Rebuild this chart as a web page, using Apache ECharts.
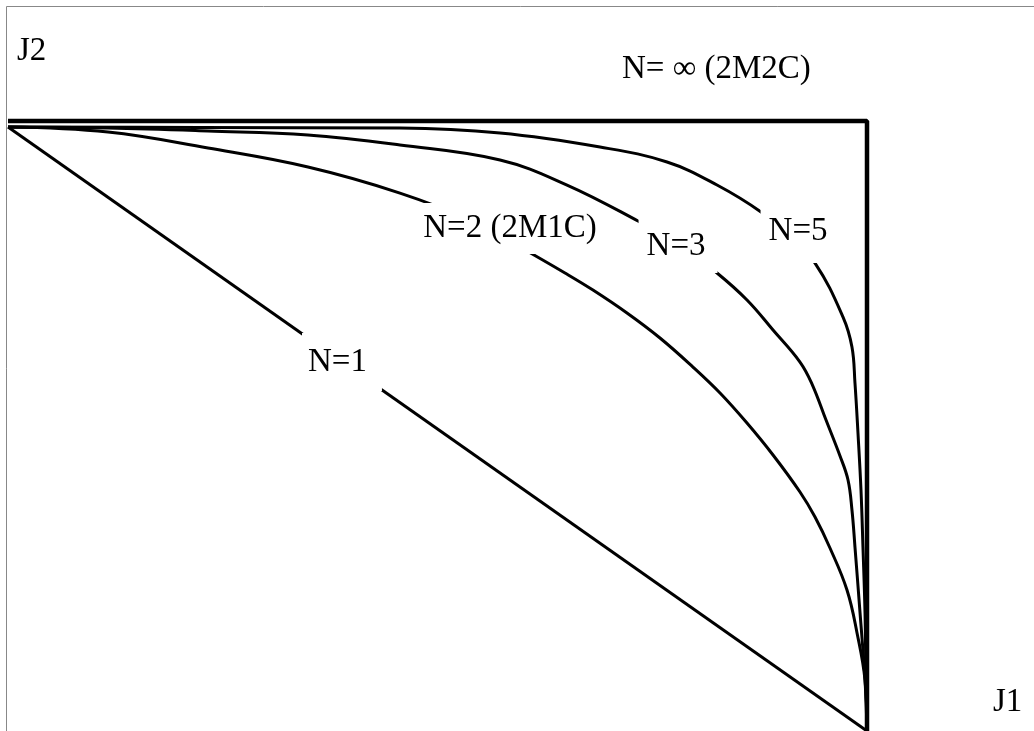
<!DOCTYPE html>
<html>
<head>
<meta charset="utf-8">
<script src="https://cdn.jsdelivr.net/npm/echarts@6/dist/echarts.min.js"></script>
<style>
  html, body { margin: 0; padding: 0; background: #fff; }
  #chart { width: 1034px; height: 731px; }
</style>
</head>
<body>
<div id="chart"></div>
<script>
// curve names (also used as the labels on the chart)
const curveNames = ['N=1', 'N=2 (2M1C)', 'N=3', 'N=5', 'N= \u221e (2M2C)'];
const axisNames = ['J1', 'J2'];

// J1 (x) / J2 (y) points, both scaled 0..1
const n1 = [[0, 1], [1, 0]];
const n2 = [
  [0, 1], [0.1164, 0.9917], [0.2328, 0.9652], [0.3492, 0.9338], [0.4563, 0.8907],
  [0.5437, 0.8427], [0.5960, 0.8013], [0.6484, 0.7583], [0.6810, 0.7301], [0.7206, 0.6921],
  [0.7590, 0.6507], [0.7974, 0.6026], [0.8289, 0.5596], [0.8603, 0.5099], [0.8906, 0.4570],
  [0.9220, 0.3957], [0.9395, 0.3543], [0.9569, 0.3030], [0.9767, 0.2334], [0.9884, 0.1623],
  [0.9977, 0.0844], [1, 0]
];
const n3 = [
  [0, 1], [0.1164, 0.9983], [0.2328, 0.9934], [0.3492, 0.9868], [0.4563, 0.9702],
  [0.5728, 0.9454], [0.6508, 0.9040], [0.7334, 0.8444], [0.7823, 0.8046], [0.8254, 0.7583],
  [0.8603, 0.7136], [0.8906, 0.6639], [0.9220, 0.6109], [0.9360, 0.5745], [0.9523, 0.5149],
  [0.9686, 0.4553], [0.9779, 0.4156], [0.9825, 0.3659], [0.9860, 0.3046], [0.9919, 0.1954],
  [0.9977, 0.0844], [1, 0]
];
const n5 = [
  [0, 1], [0.2235, 0.9992], [0.4563, 0.9983], [0.5728, 0.9901], [0.6892, 0.9669],
  [0.7672, 0.9421], [0.8254, 0.9040], [0.8766, 0.8593], [0.9104, 0.8179], [0.9395, 0.7748],
  [0.9721, 0.6854], [0.9825, 0.6358], [0.9860, 0.5762], [0.9895, 0.4934], [0.9930, 0.3990],
  [0.9953, 0.3046], [0.9977, 0.1954], [0.9988, 0.0844], [1, 0]
];
const nInf = [[0, 1.01], [1, 1.01], [1, 0]];

const font = 'Liberation Serif';
const textBase = { color: '#000', fontFamily: font, fontSize: 33, fontWeight: 'normal' };

// label on a curve, white box hides the line under the text
function curveLabel(text, coord, padding) {
  return {
    symbol: 'circle',
    symbolSize: 0,
    data: [{ coord: coord }],
    label: {
      show: true,
      position: 'inside',
      formatter: text,
      backgroundColor: '#fff',
      lineHeight: 34,
      padding: padding,
      ...textBase
    }
  };
}

function curve(name, data, width, smooth, mark) {
  return {
    name: name,
    type: 'line',
    data: data,
    showSymbol: false,
    smooth: smooth,
    clip: false,
    lineStyle: { color: '#000', width: width },
    markPoint: mark,
    silent: true
  };
}

const chart = echarts.init(document.getElementById('chart'));
chart.setOption({
  animation: false,
  backgroundColor: '#fff',
  title: [
    { text: axisNames[1], left: 17, top: 35, padding: 0, textStyle: textBase },
    { text: axisNames[0], left: 993, top: 686, padding: 0, textStyle: textBase },
    { text: curveNames[4], left: 622, top: 53, padding: 0, textStyle: textBase }
  ],
  grid: { left: 8, right: 167, top: 121, bottom: 0 },
  xAxis: {
    type: 'value', min: 0, max: 1,
    axisLine: { show: false }, axisTick: { show: false },
    axisLabel: { show: false }, splitLine: { show: false }
  },
  yAxis: {
    type: 'value', min: 0, max: 1.01,
    axisLine: { show: false }, axisTick: { show: false },
    axisLabel: { show: false }, splitLine: { show: false }
  },
  graphic: [
    { type: 'line', shape: { x1: 6.5, y1: 6.5, x2: 1034, y2: 6.5 }, style: { stroke: '#888', lineWidth: 1 } },
    { type: 'line', shape: { x1: 6.5, y1: 6.5, x2: 6.5, y2: 731 }, style: { stroke: '#888', lineWidth: 1 } }
  ],
  series: [
    curve(curveNames[0], n1, 3, false, curveLabel(curveNames[0], [0.3888, 0.6109], [9, 15, 15, 6])),
    curve(curveNames[1], n2, 3, 0.4, curveLabel(curveNames[1], [0.5844, 0.8320], [8, 4, 9, 4])),
    curve(curveNames[2], n3, 3, 0.4, curveLabel(curveNames[2], [0.7800, 0.8030], [2, 12, 18, 8])),
    curve(curveNames[3], n5, 3, 0.4, curveLabel(curveNames[3], [0.9162, 0.8278], [2, 2, 28, 8])),
    curve(curveNames[4], nInf, 4.5, false, null)
  ]
});
</script>
</body>
</html>
